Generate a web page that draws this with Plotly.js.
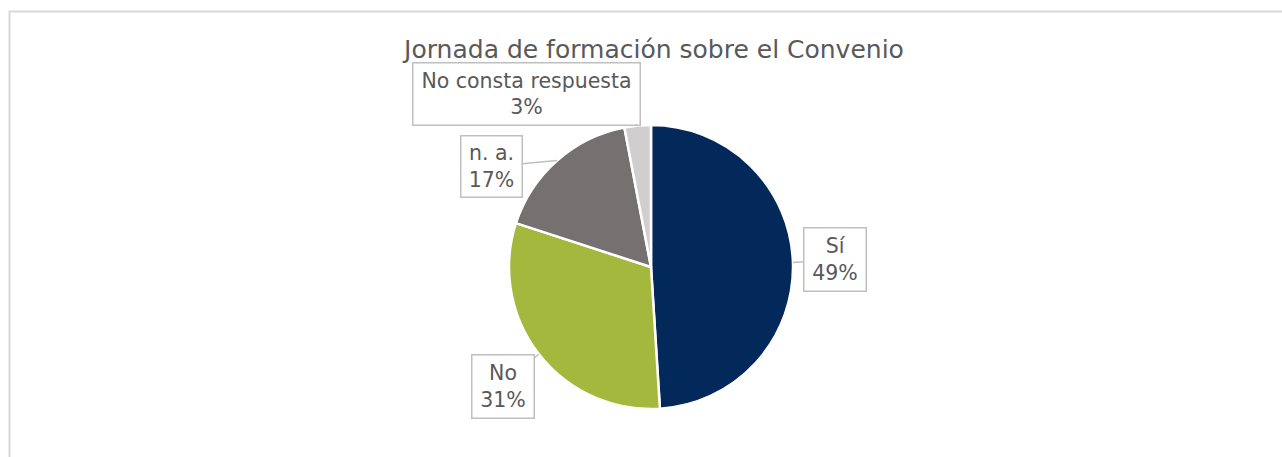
<!DOCTYPE html>
<html>
<head>
<meta charset="utf-8">
<script src="https://cdn.plot.ly/plotly-3.0.1.min.js"></script>
<style>html,body{margin:0;padding:0;background:#fff;}#chart{width:1282px;height:457px;}</style>
</head>
<body>
<div id="chart"></div>
<script>
const chartTitle = 'Jornada de formación sobre el Convenio';
const labels = ['Sí', 'No', 'n. a.', 'No consta respuesta'];
const values = [49, 31, 17, 3];
const colors = ['#03295A', '#A3B83C', '#757171', '#D0CECE'];

// layout constants (pixels)
const W = 1282, H = 457;
const CX = 651, CY = 267, R = 142;
const calloutOffsets = [[42, -3], [-36, 32], [-66, 6], [-111, -32]];
const calloutSizes = [[59, 60], [59, 60], [58, 58], [224, 59]];

const total = values.reduce((a, b) => a + b, 0);
let cum = 0;
const annotations = values.map((v, i) => {
  const mid = (cum + v / 2) / total;
  cum += v;
  const ang = mid * 2 * Math.PI;
  const px = CX + R * Math.sin(ang);
  const py = CY - R * Math.cos(ang);
  const pct = Math.round(v / total * 100);
  return {
    xref: 'paper', yref: 'paper',
    x: px / W, y: 1 - py / H,
    text: labels[i] + '<br>' + pct + '%',
    showarrow: true, arrowhead: 0, arrowwidth: 1.5, arrowcolor: '#BFBFBF',
    standoff: 0,
    ax: calloutOffsets[i][0], ay: calloutOffsets[i][1],
    width: calloutSizes[i][0], height: calloutSizes[i][1],
    bgcolor: '#FFFFFF', bordercolor: '#BFBFBF', borderwidth: 1.5, borderpad: 1,
    font: {family: 'DejaVu Sans', size: 20.5, color: '#595959'},
    align: 'center', valign: 'middle'
  };
});

const trace = {
  type: 'pie',
  labels: labels,
  values: values,
  sort: false,
  direction: 'clockwise',
  rotation: 0,
  textinfo: 'none',
  hoverinfo: 'label+percent',
  marker: {colors: colors, line: {color: '#FFFFFF', width: 2.5}},
  domain: {x: [(CX - R) / W, (CX + R) / W], y: [(H - CY - R) / H, (H - CY + R) / H]},
  showlegend: false
};

const layout = {
  width: W, height: H,
  margin: {l: 0, r: 0, t: 0, b: 0},
  paper_bgcolor: '#FFFFFF',
  showlegend: false,
  title: {
    text: chartTitle,
    font: {family: 'DejaVu Sans', size: 25, color: '#595959'},
    x: 654 / W, xanchor: 'center', xref: 'paper',
    y: 1 - 49 / H, yanchor: 'middle', yref: 'paper'
  },
  shapes: [{
    type: 'rect', xref: 'paper', yref: 'paper',
    x0: 9.5 / W, x1: 1.2, y0: -0.2, y1: 1 - 11.5 / H,
    line: {color: '#D9D9D9', width: 2}, fillcolor: 'rgba(0,0,0,0)'
  }],
  annotations: annotations
};

Plotly.newPlot('chart', [trace], layout, {displayModeBar: false, staticPlot: true});
</script>
</body>
</html>
